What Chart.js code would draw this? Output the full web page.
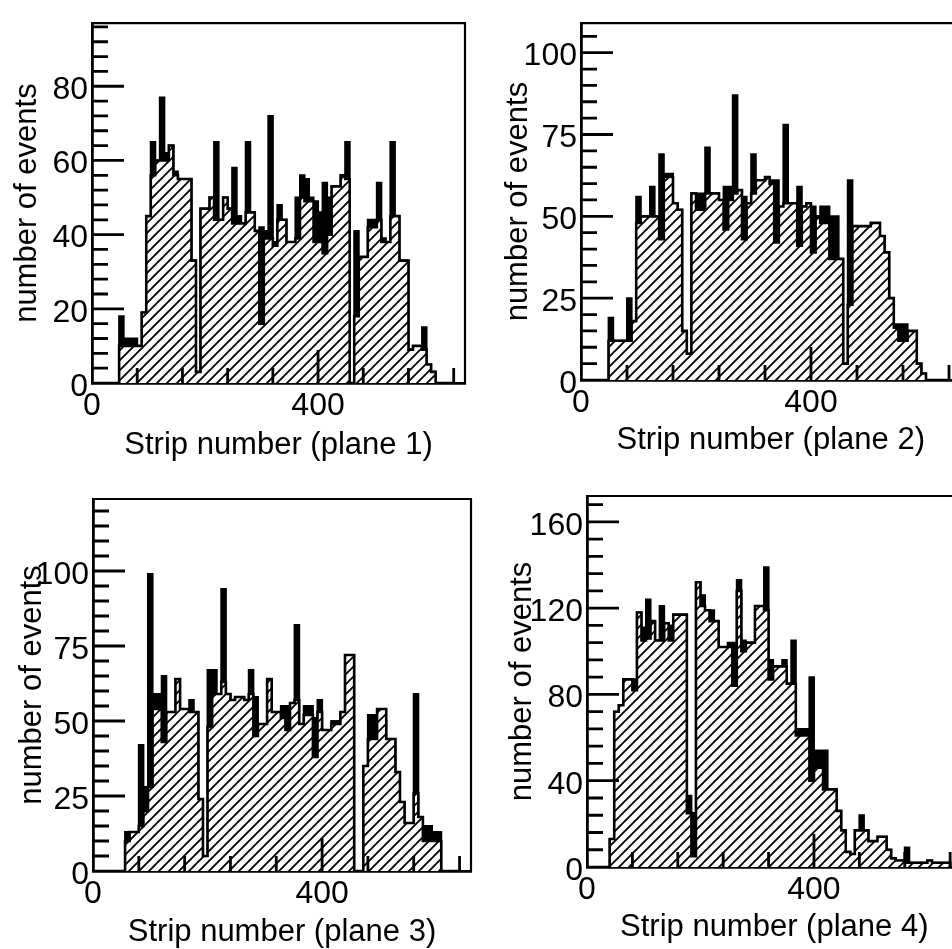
<!DOCTYPE html>
<html>
<head>
<meta charset="utf-8">
<script src="https://cdn.jsdelivr.net/npm/chart.js@4.4.1/dist/chart.umd.min.js"></script>
<style>
  html, body { margin: 0; padding: 0; background: #fff; overflow: hidden; }
  body { width: 952px; height: 949px; position: relative; }
  canvas { position: absolute; }
</style>
</head>
<body>
<canvas id="plane1" width="476" height="470" style="left:0;top:0"></canvas>
<canvas id="plane2" width="500" height="470" style="left:476px;top:0"></canvas>
<canvas id="plane3" width="476" height="489" style="left:0;top:460px"></canvas>
<canvas id="plane4" width="500" height="489" style="left:476px;top:460px"></canvas>
<script>
// Strip histograms, 8 strips per bin, bins 0..79 (strips 0..640)
const BIN_WIDTH = 8;
const X_TICKS = [0, 400];

// hatched = events after cut, solid = all events
const plane1Cut = [0,0,0,0,0,0,10,10,10,10, 10,19,45,56,60,60,60,64,56,55, 55,55,33,3,47,47,50,44,44,50, 47,43,43,43,46,46,41,16,39,39, 37,44,44,38,38,39,50,49,49,38, 38,35,40,53,53,56,55,0,18,34, 34,42,42,44,38,38,45,45,33,33, 9,10,10,9,5,3,0,0,0,0];
const plane1All = [0,0,0,0,0,0,18,12,12,12, 10,19,45,65,60,77,62,64,57,55, 55,55,33,3,47,47,50,65,44,50, 47,58,45,43,65,46,41,42,41,72, 38,48,44,38,38,50,56,55,50,49, 46,54,50,53,53,56,65,0,41,34, 34,44,44,54,39,38,65,45,33,33, 9,10,10,15,5,3,0,0,0,0];

const plane2Cut = [0,0,0,0,0,0,12,12,12,12, 12,18,48,50,50,50,50,43,62,62, 54,52,15,8,57,52,52,57,57,57, 55,46,55,57,58,43,54,57,61,61, 62,60,42,53,54,54,54,41,53,54, 39,50,48,48,37,37,37,5,23,47, 47,47,47,48,48,44,39,25,16,12, 12,15,15,5,2,0,0,0,0,0];
const plane2All = [0,0,0,0,0,0,19,12,12,12, 25,18,56,50,50,59,50,69,63,63, 54,52,15,8,57,57,57,71,57,57, 55,59,59,87,58,56,54,69,61,61, 62,61,61,53,78,54,54,59,53,54, 53,50,53,53,50,50,37,5,61,47, 47,47,47,48,48,44,39,25,17,17, 17,15,15,5,2,0,0,0,0,0];

const plane3Cut = [0,0,0,0,0,0,0,10,13,13, 15,20,28,54,54,43,53,53,64,54, 54,53,53,24,5,48,59,59,63,59, 57,58,58,57,59,45,49,49,64,53, 53,51,47,56,57,49,52,52,38,53, 47,47,49,49,53,72,72,0,0,35, 44,44,54,54,44,44,33,23,16,16, 26,18,10,10,10,10,0,0,0,0];
const plane3All = [0,0,0,0,0,0,0,13,13,13, 42,28,99,59,59,65,53,53,64,54, 54,57,53,24,5,67,67,59,94,59, 57,58,58,57,67,58,49,49,64,53, 53,55,55,56,82,49,55,55,51,57, 47,47,50,50,53,72,72,0,0,35, 52,52,50,50,44,44,33,23,16,16, 59,18,15,15,13,13,0,0,0,0];

const plane4Cut = [0,0,0,0,0,13,72,75,87,87, 82,118,105,106,114,105,105,113,105,117, 117,117,25,5,132,121,119,114,114,102, 102,102,84,128,100,104,104,121,121,119, 87,93,93,93,85,85,61,61,61,40, 46,46,36,36,36,26,17,7,6,17, 17,17,12,12,14,14,8,4,3,3, 2,2,2,2,2,3,2,2,2,2];
const plane4All = [0,0,0,0,0,13,72,75,87,87, 87,118,111,124,114,105,121,113,112,117, 117,117,33,25,132,126,119,119,114,102, 102,104,104,133,105,104,104,116,116,139, 96,93,93,96,85,105,64,64,64,88, 54,54,54,36,36,26,17,7,6,17, 24,17,12,12,14,14,8,4,3,3, 9,2,2,2,2,3,2,2,2,2];

const plane1YTicks = [0, 20, 40, 60, 80];
const plane2YTicks = [0, 25, 50, 75, 100];
const plane3YTicks = [0, 25, 50, 75, 100];
const plane4YTicks = [0, 40, 80, 120, 160];

const FONT = "'Liberation Sans', Arial, Helvetica, sans-serif";

// bin counts -> step points at bin left edges
function toSteps(counts) {
  const pts = counts.map((c, i) => ({ x: i * BIN_WIDTH, y: c }));
  pts.push({ x: counts.length * BIN_WIDTH, y: 0 });
  return pts;
}

// white background with "/" hatching
function hatchPattern(ctx) {
  const c = document.createElement('canvas');
  c.width = 10; c.height = 10;
  const g = c.getContext('2d');
  g.fillStyle = '#fff';
  g.fillRect(0, 0, 10, 10);
  g.strokeStyle = '#000';
  g.lineWidth = 1.9;
  g.beginPath();
  g.moveTo(-2, 12); g.lineTo(12, -2);
  g.moveTo(-2, 2); g.lineTo(2, -2);
  g.moveTo(8, 12); g.lineTo(12, 8);
  g.stroke();
  return ctx.createPattern(c, 'repeat');
}

// box frame + inward tick marks
const frameAndTicks = {
  id: 'frameAndTicks',
  afterDatasetsDraw(chart, args, opts) {
    const { ctx, chartArea: a, scales: { x, y } } = chart;
    ctx.save();
    ctx.strokeStyle = '#000';
    ctx.lineWidth = 2.2;
    ctx.beginPath();
    ctx.moveTo(a.left, a.top);
    ctx.lineTo(a.right, a.top);
    ctx.lineTo(a.right, a.bottom);
    ctx.stroke();

    ctx.lineWidth = 2.8;
    ctx.beginPath();
    for (let v = opts.yMinor; v <= y.max; v += opts.yMinor) {
      const py = y.getPixelForValue(v);
      const len = v % opts.yMajor === 0 ? 32 : 16;
      ctx.moveTo(a.left, py);
      ctx.lineTo(a.left + len, py);
    }
    for (let s = 80; s <= x.max; s += 80) {
      const px = x.getPixelForValue(s);
      const len = s % 400 === 0 ? 33 : 15;
      ctx.moveTo(px, a.bottom);
      ctx.lineTo(px, a.bottom - len);
    }
    ctx.stroke();
    ctx.restore();
  }
};

function makeChart(id, cut, all, yTicks, opt) {
  const canvas = document.getElementById(id);
  const ctx = canvas.getContext('2d');
  return new Chart(ctx, {
    type: 'line',
    data: {
      datasets: [
        {
          data: toSteps(cut),
          stepped: true,
          fill: 'origin',
          backgroundColor: hatchPattern(ctx),
          borderColor: '#000',
          borderWidth: 2.6,
          pointRadius: 0,
          order: 0
        },
        {
          data: toSteps(all),
          stepped: true,
          fill: 'origin',
          backgroundColor: '#000',
          borderColor: '#000',
          borderWidth: 2,
          pointRadius: 0,
          order: 1
        }
      ]
    },
    options: {
      responsive: false,
      animation: false,
      events: [],
      layout: {
        autoPadding: false,
        padding: { top: opt.top, right: canvas.width - opt.right, left: 0, bottom: 0 }
      },
      plugins: {
        legend: { display: false },
        tooltip: { enabled: false },
        frameAndTicks: { yMinor: opt.yMinor, yMajor: opt.yMajor }
      },
      scales: {
        x: {
          type: 'linear',
          min: 0,
          max: 660,
          grid: { display: false, drawTicks: false },
          border: { display: true, color: '#000', width: 2.8 },
          ticks: { color: '#000', padding: 4, font: { family: FONT, size: 32 } },
          afterBuildTicks: s => { s.ticks = X_TICKS.map(v => ({ value: v })); },
          afterFit: s => { s.height = canvas.height - opt.bottom; },
          title: {
            display: true,
            text: opt.xTitle,
            color: '#000',
            font: { family: FONT, size: 31, lineHeight: 1 },
            padding: { top: 0, bottom: opt.xTitlePad }
          }
        },
        y: {
          type: 'linear',
          min: 0,
          max: opt.yMax,
          grid: { display: false, drawTicks: false },
          border: { display: true, color: '#000', width: 2.8 },
          ticks: { color: '#000', padding: 4, labelOffset: 4, font: { family: FONT, size: 32 } },
          afterBuildTicks: s => { s.ticks = yTicks.map(v => ({ value: v })); },
          afterFit: s => { s.width = opt.left; },
          title: {
            display: true,
            text: 'number of events',
            color: '#000',
            font: { family: FONT, size: 31, lineHeight: 1 },
            padding: { top: opt.yTitlePad, bottom: 0 }
          }
        }
      }
    },
    plugins: [frameAndTicks]
  });
}

makeChart('plane1', plane1Cut, plane1All, plane1YTicks, {
  left: 92, top: 13, right: 465, bottom: 383, yMax: 97, yMinor: 4, yMajor: 20,
  xTitle: 'Strip number (plane 1)', xTitlePad: 9.5, yTitlePad: 12
});
makeChart('plane2', plane2Cut, plane2All, plane2YTicks, {
  left: 105, top: 8, right: 484.5, bottom: 380, yMax: 109, yMinor: 5, yMajor: 25,
  xTitle: 'Strip number (plane 2)', xTitlePad: 14.5, yTitlePad: 26.5
});
makeChart('plane3', plane3Cut, plane3All, plane3YTicks, {
  left: 93, top: 39, right: 471, bottom: 411, yMax: 124, yMinor: 5, yMajor: 25,
  xTitle: 'Strip number (plane 3)', xTitlePad: 1.5, yTitlePad: 16.5
});
makeChart('plane4', plane4Cut, plane4All, plane4YTicks, {
  left: 111, top: 36, right: 485.5, bottom: 407, yMax: 172, yMinor: 8, yMajor: 40,
  xTitle: 'Strip number (plane 4)', xTitlePad: 6.5, yTitlePad: 30.5
});
</script>
</body>
</html>
